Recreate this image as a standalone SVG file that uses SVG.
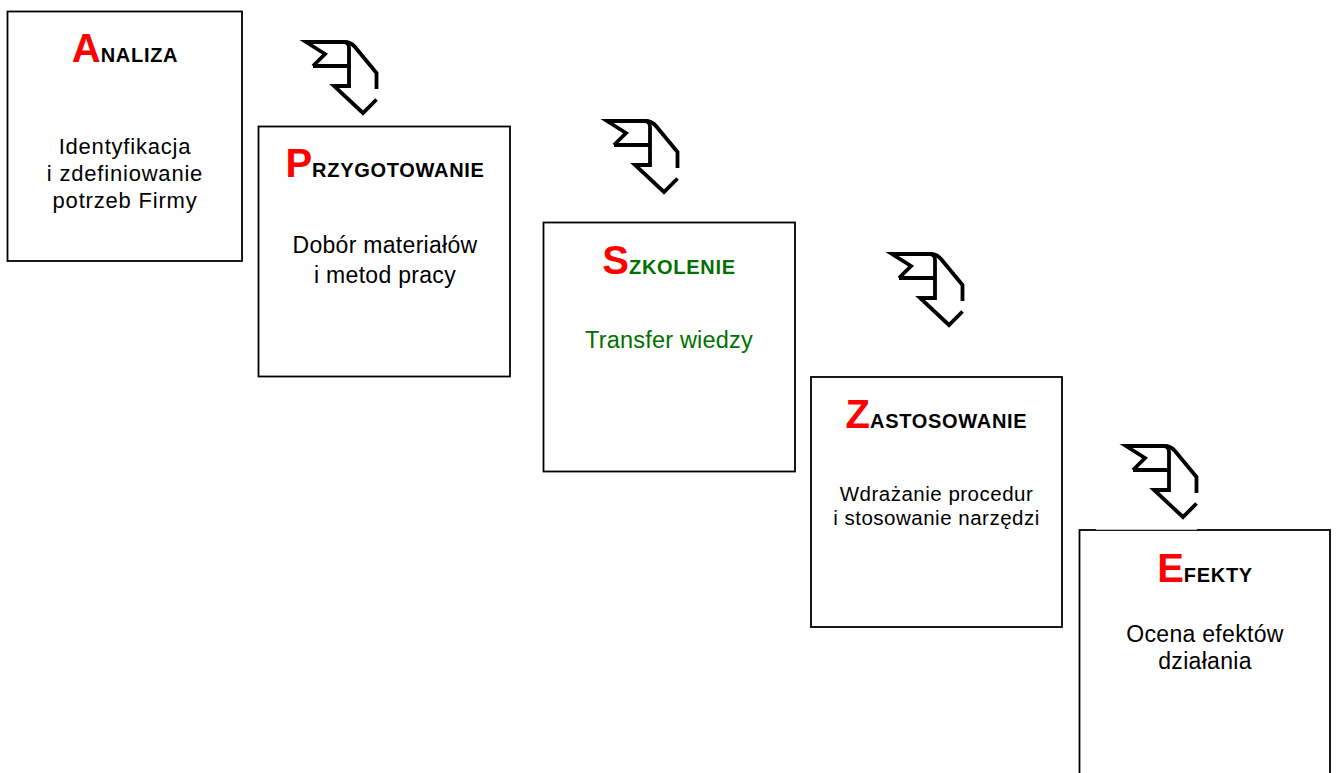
<svg xmlns="http://www.w3.org/2000/svg" xmlns:xlink="http://www.w3.org/1999/xlink" width="1336" height="773" viewBox="0 0 1336 773">
<style>
.box{fill:#fff;stroke:#000;stroke-width:1.8}
.title{font-family:"Liberation Sans",Arial,sans-serif;font-weight:bold;text-anchor:middle}
.big{font-size:40px;fill:#ff0000}
.small{font-size:20px;letter-spacing:0.7px}
.body{font-family:"Liberation Sans",Arial,sans-serif;text-anchor:middle;fill:#000}
.green{fill:#007000}
.arr{fill:none;stroke:#000;stroke-width:3.8;stroke-linejoin:miter;stroke-linecap:butt}
</style>
<defs>
<g id="arrow">
<path class="arr" d="M7,24 L19,12 L0,0 L38,0 Q43,0 43,6 L43,44 L28,44 L57,71 L70.5,57.5"/>
<path class="arr" d="M38,0 Q45,0 49,5 L70.5,31 L70.5,47"/>
<path class="arr" d="M7,24 L43,24"/>
</g>
</defs>
<rect width="1336" height="773" fill="#fff"/>
<g id="node-analiza">
<rect class="box" x="7.5" y="11.5" width="234.5" height="249.5"/>
<text class="title" x="125" y="62"><tspan class="big">A</tspan><tspan class="small">NALIZA</tspan></text>
<text class="body" font-size="22" letter-spacing="0.8"><tspan x="125" y="154">Identyfikacja</tspan><tspan x="125" y="181">i zdefiniowanie</tspan><tspan x="125" y="208">potrzeb Firmy</tspan></text>
</g>
<g id="node-przygotowanie">
<rect class="box" x="258.5" y="126.5" width="251.5" height="250"/>
<text class="title" x="385" y="177"><tspan class="big">P</tspan><tspan class="small">RZYGOTOWANIE</tspan></text>
<text class="body" font-size="23" letter-spacing="0.3"><tspan x="385" y="253">Dobór materiałów</tspan><tspan x="385" y="283">i metod pracy</tspan></text>
</g>
<g id="node-szkolenie">
<rect class="box" x="543.5" y="222.5" width="251.5" height="249"/>
<text class="title" x="669" y="274"><tspan class="big">S</tspan><tspan class="small green">ZKOLENIE</tspan></text>
<text class="body green" font-size="23.5" letter-spacing="0.2"><tspan x="669" y="348">Transfer wiedzy</tspan></text>
</g>
<g id="node-zastosowanie">
<rect class="box" x="811" y="377" width="251" height="250"/>
<text class="title" x="936.5" y="428"><tspan class="big">Z</tspan><tspan class="small">ASTOSOWANIE</tspan></text>
<text class="body" font-size="20.5" letter-spacing="0.5"><tspan x="936.5" y="501">Wdrażanie procedur</tspan><tspan x="936.5" y="525">i stosowanie narzędzi</tspan></text>
</g>
<g id="node-efekty">
<rect class="box" x="1079.5" y="530" width="250.5" height="260"/>
<line x1="1096" y1="529.4" x2="1197" y2="529.4" stroke="#fff" stroke-width="0.8"/>
<text class="title" x="1205" y="582"><tspan class="big">E</tspan><tspan class="small">FEKTY</tspan></text>
<text class="body" font-size="23" letter-spacing="0.3"><tspan x="1205" y="642">Ocena efektów</tspan><tspan x="1205" y="669">działania</tspan></text>
</g>
<g id="connectors">
<use xlink:href="#arrow" href="#arrow" x="306" y="42"/>
<use xlink:href="#arrow" href="#arrow" x="607" y="121"/>
<use xlink:href="#arrow" href="#arrow" x="892" y="254"/>
<use xlink:href="#arrow" href="#arrow" x="1126" y="446"/>
</g>
</svg>
